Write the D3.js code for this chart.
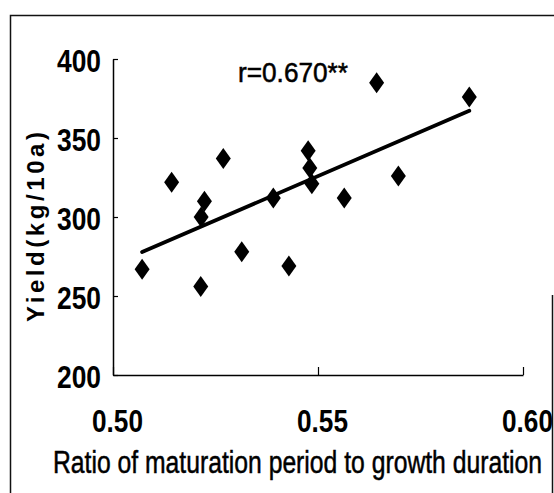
<!DOCTYPE html>
<html>
<head>
<meta charset="utf-8">
<script src="https://cdn.jsdelivr.net/npm/d3@7"></script>
<style>
  body { margin: 0; background: #fff; }
  svg { display: block; }
  text { font-family: Arial, "Liberation Sans", sans-serif; fill: #000; }
</style>
</head>
<body>
<svg id="chart" width="554" height="493"></svg>
<script>
// data
var ratio = [0.5071, 0.5143, 0.5215, 0.5223, 0.5214, 0.5269, 0.5314, 0.5391,
             0.5429, 0.5476, 0.5480, 0.5485, 0.5564, 0.5643, 0.5696, 0.5869];
var yieldVals = [267, 322, 300, 310, 256, 337, 278, 312,
                 269, 342, 331, 321, 312, 385, 326, 376];
var xTicks = [0.50, 0.55, 0.60];
var yTicks = [200, 250, 300, 350, 400];
var xTitle = "Ratio of maturation period to growth duration";
var yTitle = "Yield(kg/10a)";
var rLabel = "r=0.670**";

var margin = {top: 59, left: 113},
    width = 410,
    height = 316;

var svg = d3.select("#chart");

// outer frame (cropped scan, right side only shows low down)
svg.append("path")
  .attr("d", "M10.5,493 L10.5,15.5 L554,15.5 M552.5,295 L552.5,493")
  .attr("fill", "none")
  .attr("stroke", "#111")
  .attr("stroke-width", 1.5);

var g = svg.append("g")
  .attr("transform", "translate(" + margin.left + "," + margin.top + ")");

var x = d3.scaleLinear().domain([0.5, 0.6]).range([0, width]);
var y = d3.scaleLinear().domain([200, 400]).range([height, 0]);

// y axis, ticks inside
var yAxis = g.append("g")
  .call(d3.axisLeft(y).tickValues(yTicks).tickSizeInner(-5).tickSizeOuter(0)
    .tickPadding(12).tickFormat(d3.format("d")));
yAxis.selectAll("text")
  .attr("dy", "0.40em")
  .attr("textLength", 44)
  .attr("lengthAdjust", "spacingAndGlyphs")
  .style("font-size", "31px")
  .style("font-weight", "bold");

// x axis, ticks inside
var xAxis = g.append("g")
  .attr("transform", "translate(0," + height + ")")
  .call(d3.axisBottom(x).tickValues(xTicks).tickSizeInner(-8).tickSizeOuter(0)
    .tickPadding(35).tickFormat(d3.format(".2f")));
xAxis.selectAll("text")
  .attr("dx", 4)
  .attr("textLength", 51)
  .attr("lengthAdjust", "spacingAndGlyphs")
  .style("font-size", "31px")
  .style("font-weight", "bold");

g.selectAll(".domain").attr("stroke", "#000").attr("stroke-width", 1.5);
g.selectAll(".tick line").attr("stroke", "#000").attr("stroke-width", 1.2);

// least squares line
var pts = ratio.map(function (d, i) { return [d, yieldVals[i]]; });
var mx = d3.mean(ratio), my = d3.mean(yieldVals);
var sxy = d3.sum(pts, function (p) { return (p[0] - mx) * (p[1] - my); });
var sxx = d3.sum(pts, function (p) { return (p[0] - mx) * (p[0] - mx); });
var slope = sxy / sxx, icpt = my - slope * mx;
var xr = d3.extent(ratio);

g.append("line")
  .attr("x1", x(xr[0])).attr("y1", y(icpt + slope * xr[0]))
  .attr("x2", x(xr[1])).attr("y2", y(icpt + slope * xr[1]))
  .attr("stroke", "#000")
  .attr("stroke-width", 3.8)
  .attr("stroke-linecap", "round");

// diamonds
g.selectAll(".pt")
  .data(pts)
  .enter().append("path")
  .attr("class", "pt")
  .attr("d", "M0,-10.5L7.5,0L0,10.5L-7.5,0Z")
  .attr("transform", function (p) { return "translate(" + x(p[0]) + "," + y(p[1]) + ")"; })
  .attr("fill", "#000");

// r label
svg.append("text")
  .attr("x", 238).attr("y", 82)
  .attr("textLength", 110)
  .attr("lengthAdjust", "spacingAndGlyphs")
  .style("font-size", "27px")
  .style("stroke", "#000")
  .style("stroke-width", 0.5)
  .text(rLabel);

// axis titles
svg.append("text")
  .attr("x", 53).attr("y", 473)
  .attr("textLength", 489)
  .attr("lengthAdjust", "spacingAndGlyphs")
  .style("font-size", "31px")
  .style("stroke", "#000")
  .style("stroke-width", 0.5)
  .text(xTitle);

svg.append("text")
  .attr("transform", "translate(44,322) rotate(-90)")
  .attr("textLength", 190)
  .attr("lengthAdjust", "spacing")
  .style("font-size", "24px")
  .style("font-weight", "bold")
  .text(yTitle);
</script>
</body>
</html>
